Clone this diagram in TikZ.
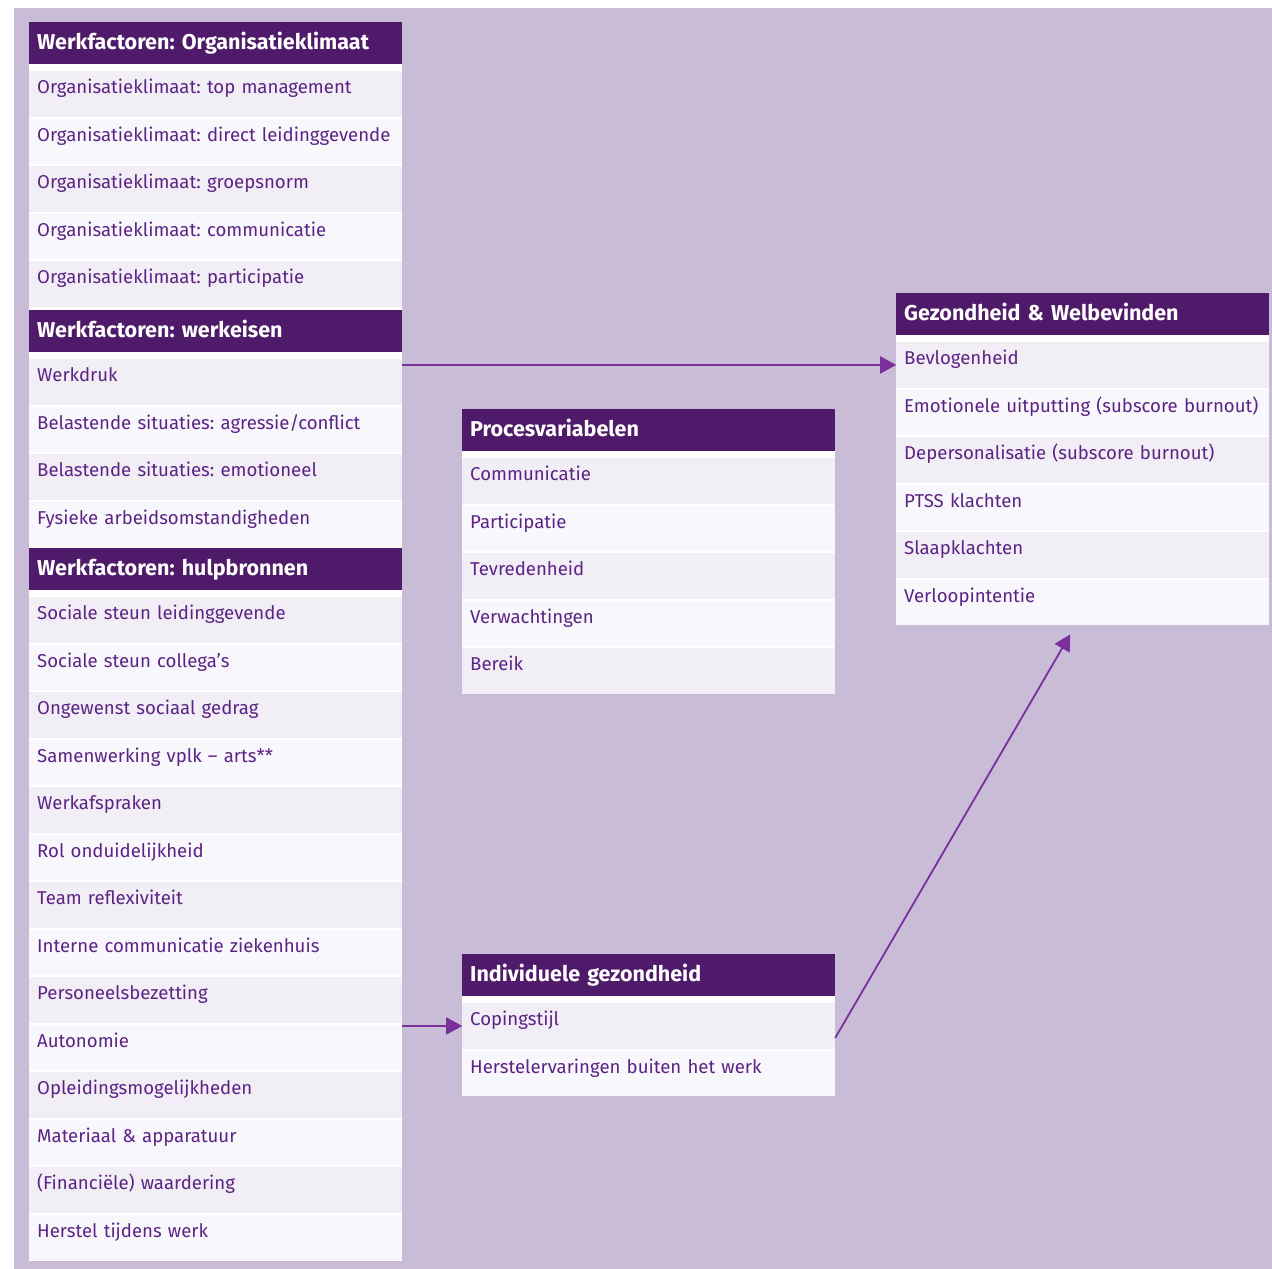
\documentclass[tikz,border=0pt]{standalone}
\usepackage{fontspec}
\setmainfont{Fira Sans}
\usetikzlibrary{matrix,arrows.meta}

\definecolor{achtergrond}{HTML}{C9BCD7}
\definecolor{kop}{HTML}{4F1A69}
\definecolor{tekst}{HTML}{5C2384}
\definecolor{rijdonker}{HTML}{F1EEF6}
\definecolor{rijlicht}{HTML}{F8F7FC}
\definecolor{pijl}{HTML}{7A2F9C}

\tikzset{
  tabel/.style={matrix of nodes,
         nodes={rectangle, text width=357pt, align=left,
                inner xsep=8pt, inner ysep=0pt, outer sep=0pt,
                minimum height=45.5pt, text height=12pt, text depth=12pt,
                anchor=center, text=tekst, fill=rijlicht,
                font=\fontsize{18.6}{20}\selectfont\frenchspacing},
         every even row/.style={nodes={fill=rijdonker}},
         row 1/.append style={nodes={fill=kop, text=white,
                minimum height=42pt, text height=15pt, text depth=3pt,
                font=\fontsize{21.5}{23}\selectfont\bfseries\frenchspacing}},
         row sep=2pt, inner sep=0pt, fill=white,
         anchor=north west},
  pijlstijl/.style={draw=pijl, line width=1.8pt,
         -{Triangle[length=16pt,width=17pt]}}
}

\begin{document}
\begin{tikzpicture}[x=1pt, y=-1pt]
\useasboundingbox (0,0) rectangle (1272,1269);
\fill[achtergrond] (14,8) rectangle (1272,1269);
\fill[white] (29,22) rectangle (402,1261);

\matrix (klimaat) [tabel] at (29,22)
{
Werkfactoren: Organisatieklimaat \\[5pt]
Organisatieklimaat: top management \\
Organisatieklimaat: direct leidinggevende \\
Organisatieklimaat: groepsnorm \\
Organisatieklimaat: communicatie \\
Organisatieklimaat: participatie \\
};

\matrix (eisen) [tabel] at (29,310)
{
Werkfactoren: werkeisen \\[5pt]
Werkdruk \\
Belastende situaties: agressie/conflict \\
Belastende situaties: emotioneel \\
Fysieke arbeidsomstandigheden \\
};

\matrix (bronnen) [tabel] at (29,548)
{
Werkfactoren: hulpbronnen \\[5pt]
Sociale steun leidinggevende \\
Sociale steun collega's \\
Ongewenst sociaal gedrag \\
Samenwerking vplk -- arts** \\
Werkafspraken \\
Rol onduidelijkheid \\
Team reflexiviteit \\
Interne communicatie ziekenhuis \\
Personeelsbezetting \\
Autonomie \\
Opleidingsmogelijkheden \\
Materiaal \& apparatuur \\
(Financiële) waardering \\
Herstel tijdens werk \\
};

\matrix (proces) [tabel] at (462,409)
{
Procesvariabelen \\[5pt]
Communicatie \\
Participatie \\
Tevredenheid \\
Verwachtingen \\
Bereik \\
};

\matrix (individu) [tabel] at (462,954)
{
Individuele gezondheid \\[5pt]
Copingstijl \\
Herstelervaringen buiten het werk \\
};

\matrix (gezond) [tabel] at (896,293)
{
Gezondheid \& Welbevinden \\[5pt]
Bevlogenheid \\
Emotionele uitputting (subscore burnout) \\
Depersonalisatie (subscore burnout) \\
PTSS klachten \\
Slaapklachten \\
Verloopintentie \\
};

\draw[pijlstijl] (eisen-2-1.east |- gezond-2-1.west) -- (gezond-2-1.west);
\draw[pijlstijl] (bronnen-11-1.east |- individu-2-1.west) -- (individu-2-1.west);
\draw[pijlstijl] ([yshift=-12pt]individu-2-1.east) -- ([xshift=-12.5pt,yshift=-9pt]gezond.south);
\end{tikzpicture}
\end{document}
